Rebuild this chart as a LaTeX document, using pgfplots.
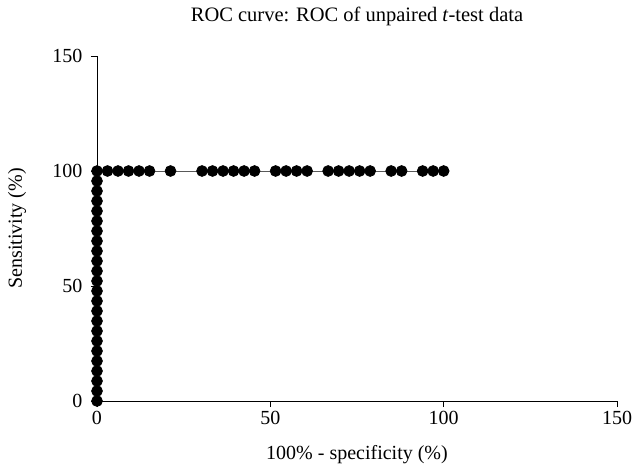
\documentclass[border=0pt]{standalone}
\usepackage{fontspec}
\setmainfont{Liberation Serif}
\usepackage{pgfplots}
\pgfplotsset{compat=1.18}

\pgfplotstableread{
x y
0 0
0 4.35
0 8.70
0 13.04
0 17.39
0 21.74
0 26.09
0 30.43
0 34.78
0 39.13
0 43.48
0 47.83
0 52.17
0 56.52
0 60.87
0 65.22
0 69.57
0 73.91
0 78.26
0 82.61
0 86.96
0 91.30
0 95.65
0 100
3.03 100
6.06 100
9.09 100
12.12 100
15.15 100
21.21 100
30.30 100
33.33 100
36.36 100
39.39 100
42.42 100
45.45 100
51.52 100
54.55 100
57.58 100
60.61 100
66.67 100
69.70 100
72.73 100
75.76 100
78.79 100
84.85 100
87.88 100
93.94 100
96.97 100
100 100
}\roc

\begin{document}
\begin{tikzpicture}
\begin{axis}[
    scale only axis,
    width=520pt, height=345pt,
    xmin=0, xmax=150, ymin=0, ymax=150,
    xtick={0,50,100,150}, ytick={0,50,100,150},
    axis x line*=bottom, axis y line*=left,
    axis line style={line width=0.8pt},
    tick align=outside, major tick length=6pt,
    tick style={line width=0.8pt, black},
    /pgf/number format/assume math mode=true,
    tick label style={font=\fontsize{20}{23}\selectfont},
    yticklabel style={xshift=-5pt},
    xticklabel style={yshift=-1pt},
    label style={font=\fontsize{20}{23}\selectfont},
    title style={font=\fontsize{20.5}{23}\selectfont,
        at={([yshift=34pt]axis description cs:0.5,1)}, anchor=center},
    title={ROC curve: ROC of unpaired \textit{t}-test data},
    xlabel={100\% - specificity (\%)},
    ylabel={Sensitivity (\%)},
    xlabel style={at={([yshift=-54pt]axis description cs:0.5,0)}, anchor=center},
    ylabel style={at={([xshift=-80pt]axis description cs:0,0.5)}, anchor=center},
    clip=false,
]
\addplot[black, line width=0.8pt, mark=*, mark size=5.4pt, mark options={fill=black}] table {\roc};
\end{axis}
\pgfresetboundingbox
\useasboundingbox ([xshift=-97pt,yshift=-73pt]current axis.south west) rectangle ([xshift=16pt,yshift=56pt]current axis.north east);
\end{tikzpicture}
\end{document}
